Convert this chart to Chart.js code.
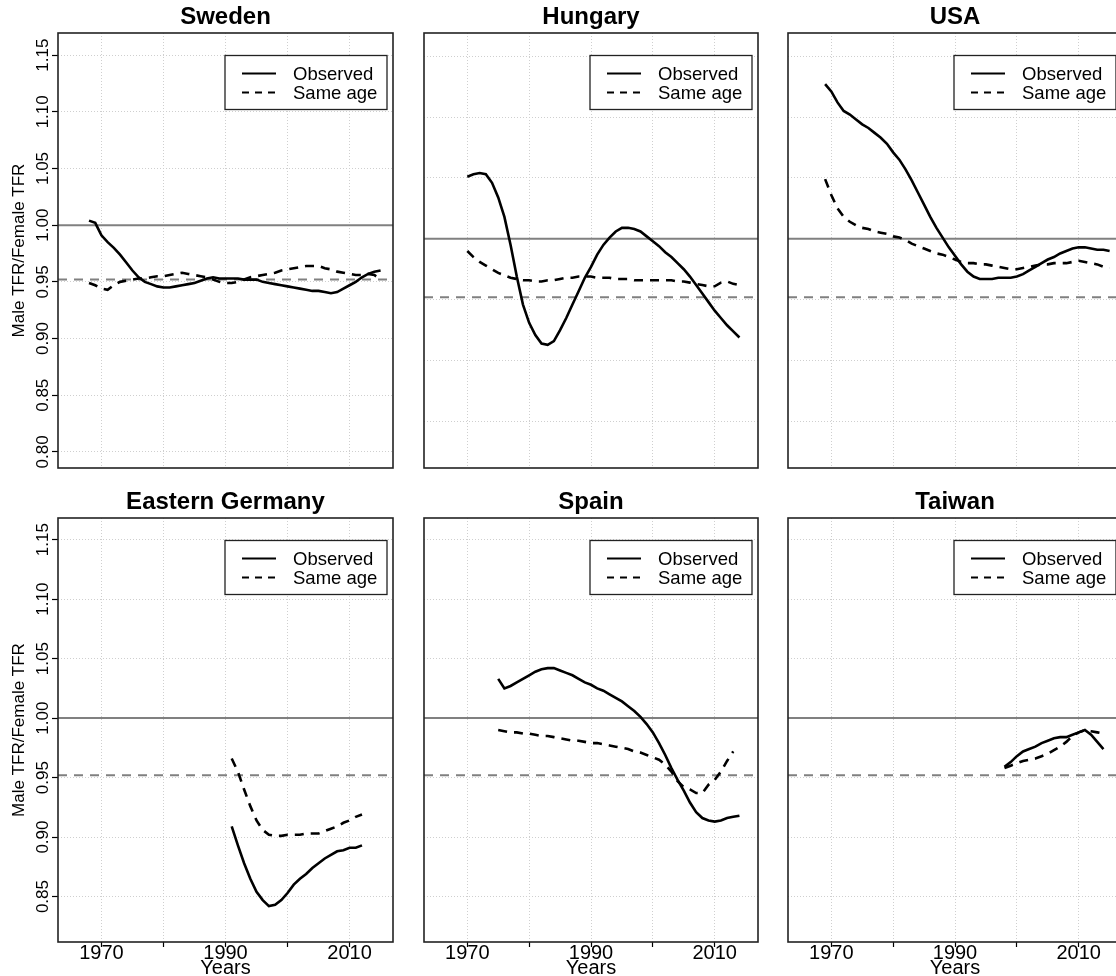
<!DOCTYPE html>
<html>
<head>
<meta charset="utf-8">
<title>Male TFR / Female TFR</title>
<script src="https://cdn.jsdelivr.net/npm/chart.js@4.4.1/dist/chart.umd.min.js"></script>
<style>
  html, body { margin: 0; padding: 0; background: #fff; }
  body { width: 1116px; height: 976px; position: relative; overflow: hidden; }
  canvas { position: absolute; }
</style>
</head>
<body>
<script>
// values, one value per year from each country's first year
const countries = ['Sweden', 'Hungary', 'USA', 'Eastern Germany', 'Spain', 'Taiwan'];
const firstYear = [1968, 1970, 1969, 1991, 1975, 1998];

const swedenObserved = [1.004, 1.002, 0.991, 0.985, 0.980, 0.974, 0.967, 0.960, 0.954, 0.950,
  0.948, 0.946, 0.945, 0.945, 0.946, 0.947, 0.948, 0.949, 0.951, 0.953,
  0.954, 0.953, 0.953, 0.953, 0.953, 0.952, 0.952, 0.952, 0.950, 0.949,
  0.948, 0.947, 0.946, 0.945, 0.944, 0.943, 0.942, 0.942, 0.941, 0.940,
  0.941, 0.944, 0.947, 0.950, 0.954, 0.957, 0.959, 0.960];
const swedenSameAge = [0.949, 0.947, 0.944, 0.943, 0.947, 0.950, 0.951, 0.952, 0.953, 0.953,
  0.954, 0.955, 0.955, 0.956, 0.957, 0.958, 0.957, 0.956, 0.955, 0.954,
  0.952, 0.950, 0.949, 0.949, 0.950, 0.952, 0.954, 0.955, 0.956, 0.957,
  0.958, 0.960, 0.961, 0.962, 0.963, 0.964, 0.964, 0.964, 0.962, 0.961,
  0.959, 0.958, 0.957, 0.956, 0.956, 0.957, 0.956, 0.952];

const hungaryObserved = [1.051, 1.053, 1.054, 1.053, 1.046, 1.034, 1.018, 0.995, 0.969, 0.946,
  0.931, 0.921, 0.914, 0.913, 0.916, 0.925, 0.935, 0.946, 0.957, 0.968,
  0.977, 0.987, 0.995, 1.001, 1.006, 1.009, 1.009, 1.008, 1.006, 1.002,
  0.998, 0.994, 0.989, 0.985, 0.980, 0.975, 0.969, 0.962, 0.955, 0.948,
  0.941, 0.935, 0.929, 0.924, 0.919];
const hungarySameAge = [0.990, 0.985, 0.981, 0.978, 0.975, 0.972, 0.970, 0.968, 0.967, 0.966,
  0.966, 0.965, 0.965, 0.966, 0.966, 0.967, 0.968, 0.968, 0.969, 0.969,
  0.969, 0.968, 0.968, 0.968, 0.967, 0.967, 0.967, 0.966, 0.966, 0.966,
  0.966, 0.966, 0.966, 0.966, 0.965, 0.965, 0.964, 0.963, 0.962, 0.961,
  0.961, 0.964, 0.965, 0.963, 0.962];

const usaObserved = [1.127,
  1.121, 1.112, 1.105, 1.102, 1.098, 1.094, 1.091, 1.087, 1.083, 1.078,
  1.071, 1.065, 1.057, 1.048, 1.038, 1.028, 1.018, 1.009, 1.001, 0.993,
  0.986, 0.979, 0.973, 0.969, 0.967, 0.967, 0.967, 0.968, 0.968, 0.968,
  0.969, 0.971, 0.974, 0.977, 0.980, 0.983, 0.985, 0.988, 0.990, 0.992,
  0.993, 0.993, 0.992, 0.991, 0.991, 0.990];
const usaSameAge = [1.049,
  1.036, 1.025, 1.018, 1.014, 1.011, 1.009, 1.008, 1.006, 1.005, 1.004,
  1.002, 1.001, 0.999, 0.996, 0.994, 0.992, 0.990, 0.988, 0.987, 0.985,
  0.983, 0.981, 0.980, 0.980, 0.979, 0.979, 0.978, 0.977, 0.976, 0.975,
  0.975, 0.976, 0.977, 0.978, 0.979, 0.979, 0.980, 0.980, 0.980, 0.981,
  0.982, 0.981, 0.980, 0.979, 0.977, 0.976];

const eGermanyObserved = [0.909, 0.893, 0.878, 0.865, 0.854, 0.847, 0.842, 0.843, 0.847, 0.853,
  0.860, 0.865, 0.869, 0.874, 0.878, 0.882, 0.885, 0.888, 0.889, 0.891,
  0.891, 0.893];
const eGermanySameAge = [0.966, 0.955, 0.940, 0.926, 0.914, 0.906, 0.902, 0.901, 0.901, 0.902,
  0.902, 0.902, 0.903, 0.903, 0.903, 0.905, 0.907, 0.909, 0.912, 0.914,
  0.917, 0.919];

const spainObserved = [1.033, 1.025, 1.027, 1.030, 1.033, 1.036, 1.039, 1.041, 1.042, 1.042,
  1.040, 1.038, 1.036, 1.033, 1.030, 1.028, 1.025, 1.023, 1.020, 1.017,
  1.014, 1.010, 1.006, 1.001, 0.995, 0.988, 0.979, 0.969, 0.958, 0.948,
  0.939, 0.929, 0.921, 0.916, 0.914, 0.913, 0.914, 0.916, 0.917, 0.918];
const spainSameAge = [0.990, 0.989, 0.988, 0.988, 0.987, 0.987, 0.986, 0.985, 0.985, 0.984,
  0.983, 0.982, 0.981, 0.981, 0.980, 0.979, 0.979, 0.978, 0.977, 0.976,
  0.975, 0.974, 0.972, 0.971, 0.969, 0.967, 0.965, 0.961, 0.955, 0.947,
  0.942, 0.940, 0.937, 0.937, 0.944, 0.948, 0.955, 0.964, 0.972];

const taiwanObserved = [0.959, 0.963, 0.968, 0.972, 0.974, 0.976, 0.979, 0.981, 0.983, 0.984,
  0.984, 0.986, 0.988, 0.990, 0.986, 0.980, 0.974];
const taiwanSameAge = [0.958, 0.960, 0.962, 0.964, 0.965, 0.966, 0.968, 0.970, 0.973, 0.976,
  0.980, 0.985, 0.988, 0.990, 0.989, 0.988, 0.987];

const observed = [swedenObserved, hungaryObserved, usaObserved, eGermanyObserved, spainObserved, taiwanObserved];
const sameAge = [swedenSameAge, hungarySameAge, usaSameAge, eGermanySameAge, spainSameAge, taiwanSameAge];

const parityLine = 1.00;     // solid grey line
const birthRatioLine = 0.952; // dashed grey line
const legendLabels = ['Observed', 'Same age'];
const xTickLabels = ['1970', '1990', '2010'];
const xTitle = 'Years';
const yTitle = 'Male TFR/Female TFR';

// axis limits per panel
const xLimits = [1963, 2017];
const yLimits = [[0.7858, 1.1695], [0.8118, 1.1690], [0.8118, 1.1690],
  [0.8118, 1.1682], [0.8118, 1.1682], [0.8118, 1.1682]];

// plot area edges on the page
const colLeft = [58, 424, 788];
const colRight = [393, 758, 1122];
const rowTop = [33, 518];
const rowBottom = [468, 942];

Chart.defaults.font.family = '"Liberation Sans", Arial, Helvetica, sans-serif';
Chart.defaults.color = '#000';

const frame = {
  id: 'frame',
  afterDatasetsDraw(chart) {
    const { ctx, chartArea: a } = chart;
    ctx.save();
    ctx.strokeStyle = '#222';
    ctx.lineWidth = 1.6;
    ctx.strokeRect(a.left, a.top, a.right - a.left, a.bottom - a.top);
    ctx.restore();
  }
};

const boxedLegend = {
  id: 'boxedLegend',
  afterDraw(chart) {
    const { ctx, chartArea: a } = chart;
    const w = 162, h = 54;
    const x = a.right - 6 - w, y = a.top + 22.5;
    ctx.save();
    ctx.fillStyle = '#fff';
    ctx.fillRect(x, y, w, h);
    ctx.strokeStyle = '#222';
    ctx.lineWidth = 1.3;
    ctx.strokeRect(x, y, w, h);
    chart.data.datasets.slice(0, 2).forEach((ds, i) => {
      const ly = y + 18 + i * 19;
      ctx.strokeStyle = '#000';
      ctx.lineWidth = 2;
      ctx.setLineDash(i ? [7, 6] : []);
      ctx.beginPath();
      ctx.moveTo(x + 17, ly);
      ctx.lineTo(x + 51, ly);
      ctx.stroke();
      ctx.setLineDash([]);
      ctx.fillStyle = '#000';
      ctx.font = '18.5px "Liberation Sans", Arial, sans-serif';
      ctx.textBaseline = 'middle';
      ctx.fillText(ds.label, x + 68, ly + 1);
    });
    ctx.restore();
  }
};

function toPoints(values, start) {
  return values.map((v, i) => ({ x: start + i, y: v }));
}

countries.forEach((name, k) => {
  const r = Math.floor(k / 3), c = k % 3;
  const yAxisW = c === 0 ? 58 : 0;
  const padL = c === 0 ? 0 : 4;
  const padR = 6;
  const titleH = 33;
  const xAxisH = r === 1 ? 34 : 0;
  const padB = r === 0 ? 6 : 0;
  const left = colLeft[c] - yAxisW - padL;
  const top = rowTop[r] - titleH;
  const width = colRight[c] + padR - left;
  const height = rowBottom[r] + xAxisH + padB - top;

  const canvas = document.createElement('canvas');
  canvas.width = width;
  canvas.height = height;
  canvas.style.left = left + 'px';
  canvas.style.top = top + 'px';
  document.body.appendChild(canvas);

  new Chart(canvas, {
    type: 'line',
    data: {
      datasets: [{
        label: legendLabels[0],
        data: toPoints(observed[k], firstYear[k]),
        borderColor: '#000',
        borderWidth: 2.6,
        pointRadius: 0,
        tension: 0,
        order: 0
      }, {
        label: legendLabels[1],
        data: toPoints(sameAge[k], firstYear[k]),
        borderColor: '#000',
        borderWidth: 2.6,
        borderDash: [9, 7],
        pointRadius: 0,
        tension: 0,
        order: 1
      }, {
        label: 'parity',
        data: [{ x: xLimits[0], y: parityLine }, { x: xLimits[1], y: parityLine }],
        borderColor: '#808080',
        borderWidth: 2,
        pointRadius: 0,
        order: 2
      }, {
        label: 'birth ratio',
        data: [{ x: xLimits[0], y: birthRatioLine }, { x: xLimits[1], y: birthRatioLine }],
        borderColor: '#808080',
        borderWidth: 2,
        borderDash: [9, 7],
        pointRadius: 0,
        order: 3
      }]
    },
    options: {
      responsive: false,
      animation: false,
      events: [],
      layout: { padding: { left: padL, right: padR, top: 0, bottom: padB } },
      plugins: {
        legend: { display: false },
        tooltip: { enabled: false },
        title: {
          display: true,
          text: name,
          fullSize: false,
          color: '#000',
          font: { size: 24, weight: 'bold', lineHeight: 1 },
          padding: { top: 5.5, bottom: 3.5 }
        }
      },
      scales: {
        x: {
          type: 'linear',
          min: xLimits[0],
          max: xLimits[1],
          afterFit: s => { s.height = xAxisH; },
          grid: { color: '#cfcfcf', lineWidth: 1, drawTicks: r === 1, tickLength: 5, tickColor: '#000', tickWidth: 1.2 },
          border: { display: false, dash: [1, 2] },
          ticks: {
            display: r === 1,
            stepSize: 10,
            includeBounds: false,
            autoSkip: false,
            minRotation: 0,
            maxRotation: 0,
            padding: -4,
            color: '#000',
            font: { size: 20, lineHeight: 1 },
            callback: v => xTickLabels.includes(String(v)) ? String(v) : ''
          },
          title: { display: r === 1, text: xTitle, color: '#000', font: { size: 20, lineHeight: 0.8 }, padding: 0 }
        },
        y: {
          type: 'linear',
          min: yLimits[k][0],
          max: yLimits[k][1],
          afterFit: s => { s.width = yAxisW; },
          grid: { color: '#cfcfcf', lineWidth: 1, drawTicks: c === 0, tickLength: 6, tickColor: '#000', tickWidth: 1.2 },
          border: { display: false, dash: [1, 2] },
          ticks: {
            display: c === 0,
            stepSize: 0.05,
            includeBounds: false,
            minRotation: 90,
            maxRotation: 90,
            crossAlign: 'center',
            padding: -8,
            color: '#000',
            font: { size: 17, lineHeight: 1 },
            callback: v => v.toFixed(2)
          },
          title: { display: c === 0, text: yTitle, color: '#000', font: { size: 17, lineHeight: 1 }, padding: { top: 11, bottom: 0 } }
        }
      }
    },
    plugins: [frame, boxedLegend]
  });
});
</script>
</body>
</html>
